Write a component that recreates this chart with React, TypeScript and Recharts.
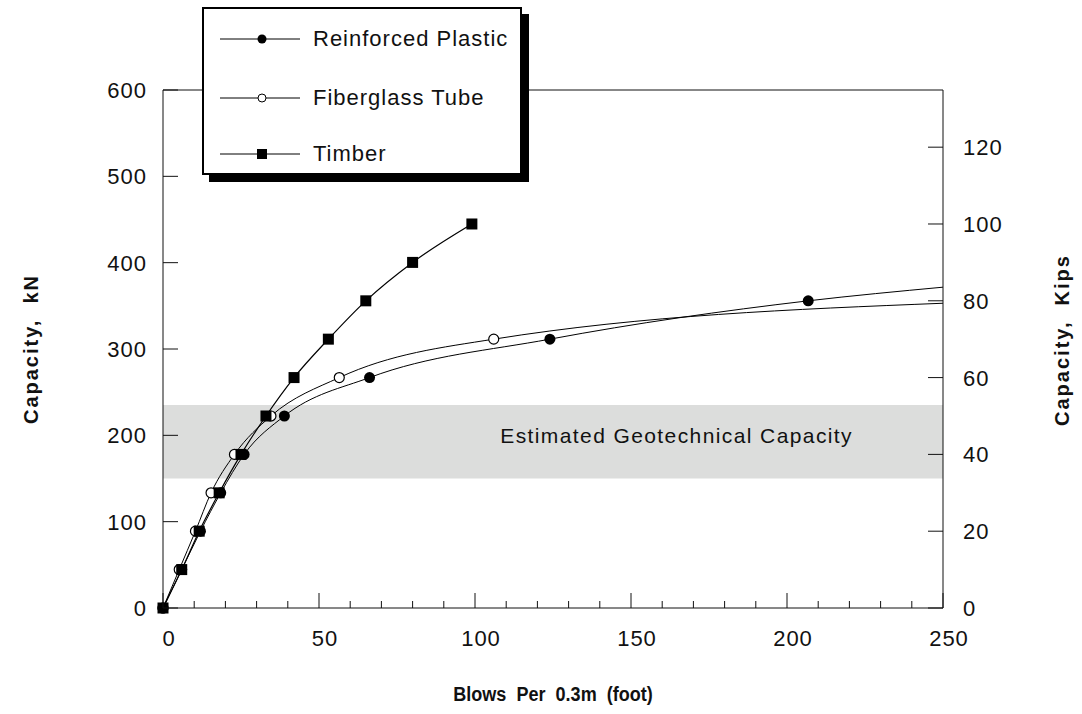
import React from "react";
import {
  ComposedChart,
  Line,
  XAxis,
  YAxis,
  ReferenceArea,
  Legend,
} from "recharts";

// blows per 0.3 m vs capacity in kN
const timberBlows = [0, 6, 11.6, 18, 25, 33, 42, 53, 65, 80, 99];
const timberKN = [0, 44.5, 89, 133.4, 177.9, 222.4, 266.9, 311.4, 355.8, 400.3, 444.8];

const fiberBlows = [0, 5.2, 10.4, 15.4, 22.9, 34.6, 56.5, 106, 250];
const fiberKN = [0, 44.5, 89, 133.4, 177.9, 222.4, 266.9, 311.4, 353];

const plasticBlows = [0, 6, 12, 18.5, 26, 38.9, 66.2, 124, 206.8, 250];
const plasticKN = [0, 44.5, 89, 133.4, 177.9, 222.4, 266.9, 311.4, 355.8, 371.6];

const bandKN = [150, 235];
const bandLabel = "Estimated Geotechnical Capacity";

const xTicks = [0, 10, 20, 30, 40, 50, 60, 70, 80, 90, 100, 110, 120, 130, 140, 150, 160, 170, 180, 190, 200, 210, 220, 230, 240, 250];
const kNTicks = [0, 100, 200, 300, 400, 500, 600];
const kipTicks = [0, 20, 40, 60, 80, 100, 120];

const X_MAX = 250;
const KN_MAX = 600;
const KN_PER_KIP = 4.448;

const FONT = "'Liberation Sans', Arial, Helvetica, sans-serif";
const INK = "#111";

const toPoints = (xs: number[], ys: number[]) => xs.map((x, i) => ({ x, y: ys[i] }));

const timber = toPoints(timberBlows, timberKN);
const fiber = toPoints(fiberBlows, fiberKN);
const plastic = toPoints(plasticBlows, plasticKN);

const tickText = {
  fontFamily: FONT,
  fontSize: 22,
  letterSpacing: 1,
  fill: INK,
};

const BottomTick = (props: any) => {
  const { x, y, payload } = props;
  const major = payload.value % 50 === 0;
  return (
    <g>
      <line x1={x} x2={x} y1={y} y2={y - (major ? 15 : 7)} stroke={INK} />
      {major && (
        <text x={x + 6} y={y + 38} textAnchor="middle" {...tickText}>
          {payload.value}
        </text>
      )}
    </g>
  );
};

const TopTick = (props: any) => {
  const { x, y, payload } = props;
  const major = payload.value % 50 === 0;
  return <line x1={x} x2={x} y1={y} y2={y + (major ? 15 : 7)} stroke={INK} />;
};

const LeftTick = (props: any) => {
  const { x, y, payload } = props;
  return (
    <g>
      <line x1={x} x2={x + 15} y1={y} y2={y} stroke={INK} />
      <text x={x - 16} y={y + 8} textAnchor="end" {...tickText}>
        {payload.value}
      </text>
    </g>
  );
};

const RightTick = (props: any) => {
  const { x, y, payload } = props;
  return (
    <g>
      <line x1={x} x2={x - 15} y1={y} y2={y} stroke={INK} />
      <text x={x + 20} y={y + 8} textAnchor="start" {...tickText}>
        {payload.value}
      </text>
    </g>
  );
};

const titleStyle = {
  fontFamily: FONT,
  fontWeight: 700,
  fill: INK,
  whiteSpace: "pre" as const,
};

const makeDot = (kind: "filled" | "open" | "square") => (props: any) => {
  const { cx, cy, payload, index } = props;
  const key = `${kind}-${index}`;
  if (payload.x >= X_MAX) return <g key={key} />;
  if (kind === "square")
    return <rect key={key} x={cx - 5.5} y={cy - 5.5} width={11} height={11} fill="#000" />;
  if (kind === "open")
    return <circle key={key} cx={cx} cy={cy} r={5} fill="#fff" stroke="#000" strokeWidth={1.2} />;
  return <circle key={key} cx={cx} cy={cy} r={5.5} fill="#000" />;
};

const legendItems = [
  { name: "Reinforced Plastic", kind: "filled" },
  { name: "Fiberglass Tube", kind: "open" },
  { name: "Timber", kind: "square" },
];

const LegendBox = () => (
  <div
    style={{
      width: 316,
      height: 164,
      border: "2px solid #000",
      background: "#fff",
      boxShadow: "7px 7px 0 #000",
      boxSizing: "content-box",
      fontFamily: FONT,
      fontSize: 22,
      letterSpacing: 1,
      color: INK,
      position: "relative",
    }}
  >
    {legendItems.map((it, i) => (
      <div
        key={it.name}
        style={{
          position: "absolute",
          left: 16,
          top: [30, 89, 145][i] - 14,
          height: 28,
          display: "flex",
          alignItems: "center",
        }}
      >
        <svg width={82} height={28}>
          <line x1={0} x2={80} y1={14} y2={14} stroke="#000" strokeWidth={1} />
          {it.kind === "filled" && <circle cx={42} cy={14} r={4.5} fill="#000" />}
          {it.kind === "open" && <circle cx={42} cy={14} r={4} fill="#fff" stroke="#000" />}
          {it.kind === "square" && <rect x={37} y={9} width={10} height={10} fill="#000" />}
        </svg>
        <span style={{ marginLeft: 11, whiteSpace: "nowrap" }}>{it.name}</span>
      </div>
    ))}
  </div>
);

export default function App() {
  return (
    <div style={{ position: "absolute", left: 0, top: 0, width: 1082, height: 714, background: "#fff" }}>
      <ComposedChart
        width={1082}
        height={714}
        margin={{ top: 60, right: 0, bottom: 0, left: 0 }}
      >
        <XAxis
          xAxisId={0}
          type="number"
          dataKey="x"
          domain={[0, X_MAX]}
          ticks={xTicks}
          interval={0}
          height={106}
          tickSize={0}
          tickMargin={0}
          tickLine={false}
          tick={<BottomTick />}
          axisLine={{ stroke: INK }}
          label={(p: any) => {
            const vb = p.viewBox;
            // the original title is a narrow bold face, so squeeze it a little
            return (
              <text
                transform={`translate(${vb.x + vb.width / 2}, ${vb.y + 93}) scale(0.86, 1)`}
                x={0}
                y={0}
                textAnchor="middle"
                fontSize={21}
                style={titleStyle}
                {...titleStyle}
              >
                {"Blows  Per  0.3m  (foot)"}
              </text>
            );
          }}
        />
        <XAxis
          xAxisId="top"
          orientation="top"
          type="number"
          dataKey="x"
          domain={[0, X_MAX]}
          ticks={xTicks}
          interval={0}
          height={30}
          tickSize={0}
          tickMargin={0}
          tickLine={false}
          tick={<TopTick />}
          axisLine={{ stroke: INK }}
        />
        <YAxis
          yAxisId={0}
          type="number"
          domain={[0, KN_MAX]}
          ticks={kNTicks}
          interval={0}
          width={163}
          tickSize={0}
          tickMargin={0}
          tickLine={false}
          tick={<LeftTick />}
          axisLine={{ stroke: INK }}
          label={(p: any) => {
            const vb = p.viewBox;
            const cx = 31;
            const cy = vb.y + vb.height / 2;
            return (
              <text
                x={cx}
                y={cy}
                transform={`rotate(-90, ${cx}, ${cy})`}
                textAnchor="middle"
                dominantBaseline="central"
                fontSize={20}
                letterSpacing={2}
                style={titleStyle}
                {...titleStyle}
              >
                {"Capacity,  kN"}
              </text>
            );
          }}
        />
        <YAxis
          yAxisId="right"
          orientation="right"
          type="number"
          domain={[0, KN_MAX / KN_PER_KIP]}
          allowDataOverflow
          ticks={kipTicks}
          interval={0}
          width={139}
          tickSize={0}
          tickMargin={0}
          tickLine={false}
          tick={<RightTick />}
          axisLine={{ stroke: INK }}
          label={(p: any) => {
            const vb = p.viewBox;
            const cx = vb.x + vb.width - 20;
            const cy = vb.y + vb.height / 2 - 9;
            return (
              <text
                x={cx}
                y={cy}
                transform={`rotate(-90, ${cx}, ${cy})`}
                textAnchor="middle"
                dominantBaseline="central"
                fontSize={20}
                letterSpacing={2}
                style={titleStyle}
                {...titleStyle}
              >
                {"Capacity,  Kips"}
              </text>
            );
          }}
        />
        <ReferenceArea
          xAxisId={0}
          yAxisId={0}
          x1={0}
          x2={X_MAX}
          y1={bandKN[0]}
          y2={bandKN[1]}
          fill="#dcdddc"
          fillOpacity={1}
          stroke="none"
          label={(p: any) => {
            const vb = p.viewBox;
            return (
              <text
                x={vb.x + vb.width - 90}
                y={vb.y + vb.height / 2 + 1}
                textAnchor="end"
                fontFamily={FONT}
                fontSize={21}
                letterSpacing={1.4}
                fill={INK}
              >
                {bandLabel}
              </text>
            );
          }}
        />
        <Line
          data={plastic}
          dataKey="y"
          name="Reinforced Plastic"
          type="monotone"
          stroke="#000"
          strokeWidth={1}
          dot={makeDot("filled")}
          activeDot={false}
          isAnimationActive={false}
        />
        <Line
          data={fiber}
          dataKey="y"
          name="Fiberglass Tube"
          type="monotone"
          stroke="#000"
          strokeWidth={1}
          dot={makeDot("open")}
          activeDot={false}
          isAnimationActive={false}
        />
        <Line
          data={timber}
          dataKey="y"
          name="Timber"
          type="monotone"
          stroke="#000"
          strokeWidth={1.2}
          dot={makeDot("square")}
          activeDot={false}
          isAnimationActive={false}
        />
        <Legend
          layout="vertical"
          align="center"
          verticalAlign="middle"
          wrapperStyle={{ left: 202, top: 7, width: 327, height: 177 }}
          content={() => <LegendBox />}
        />
      </ComposedChart>
    </div>
  );
}
